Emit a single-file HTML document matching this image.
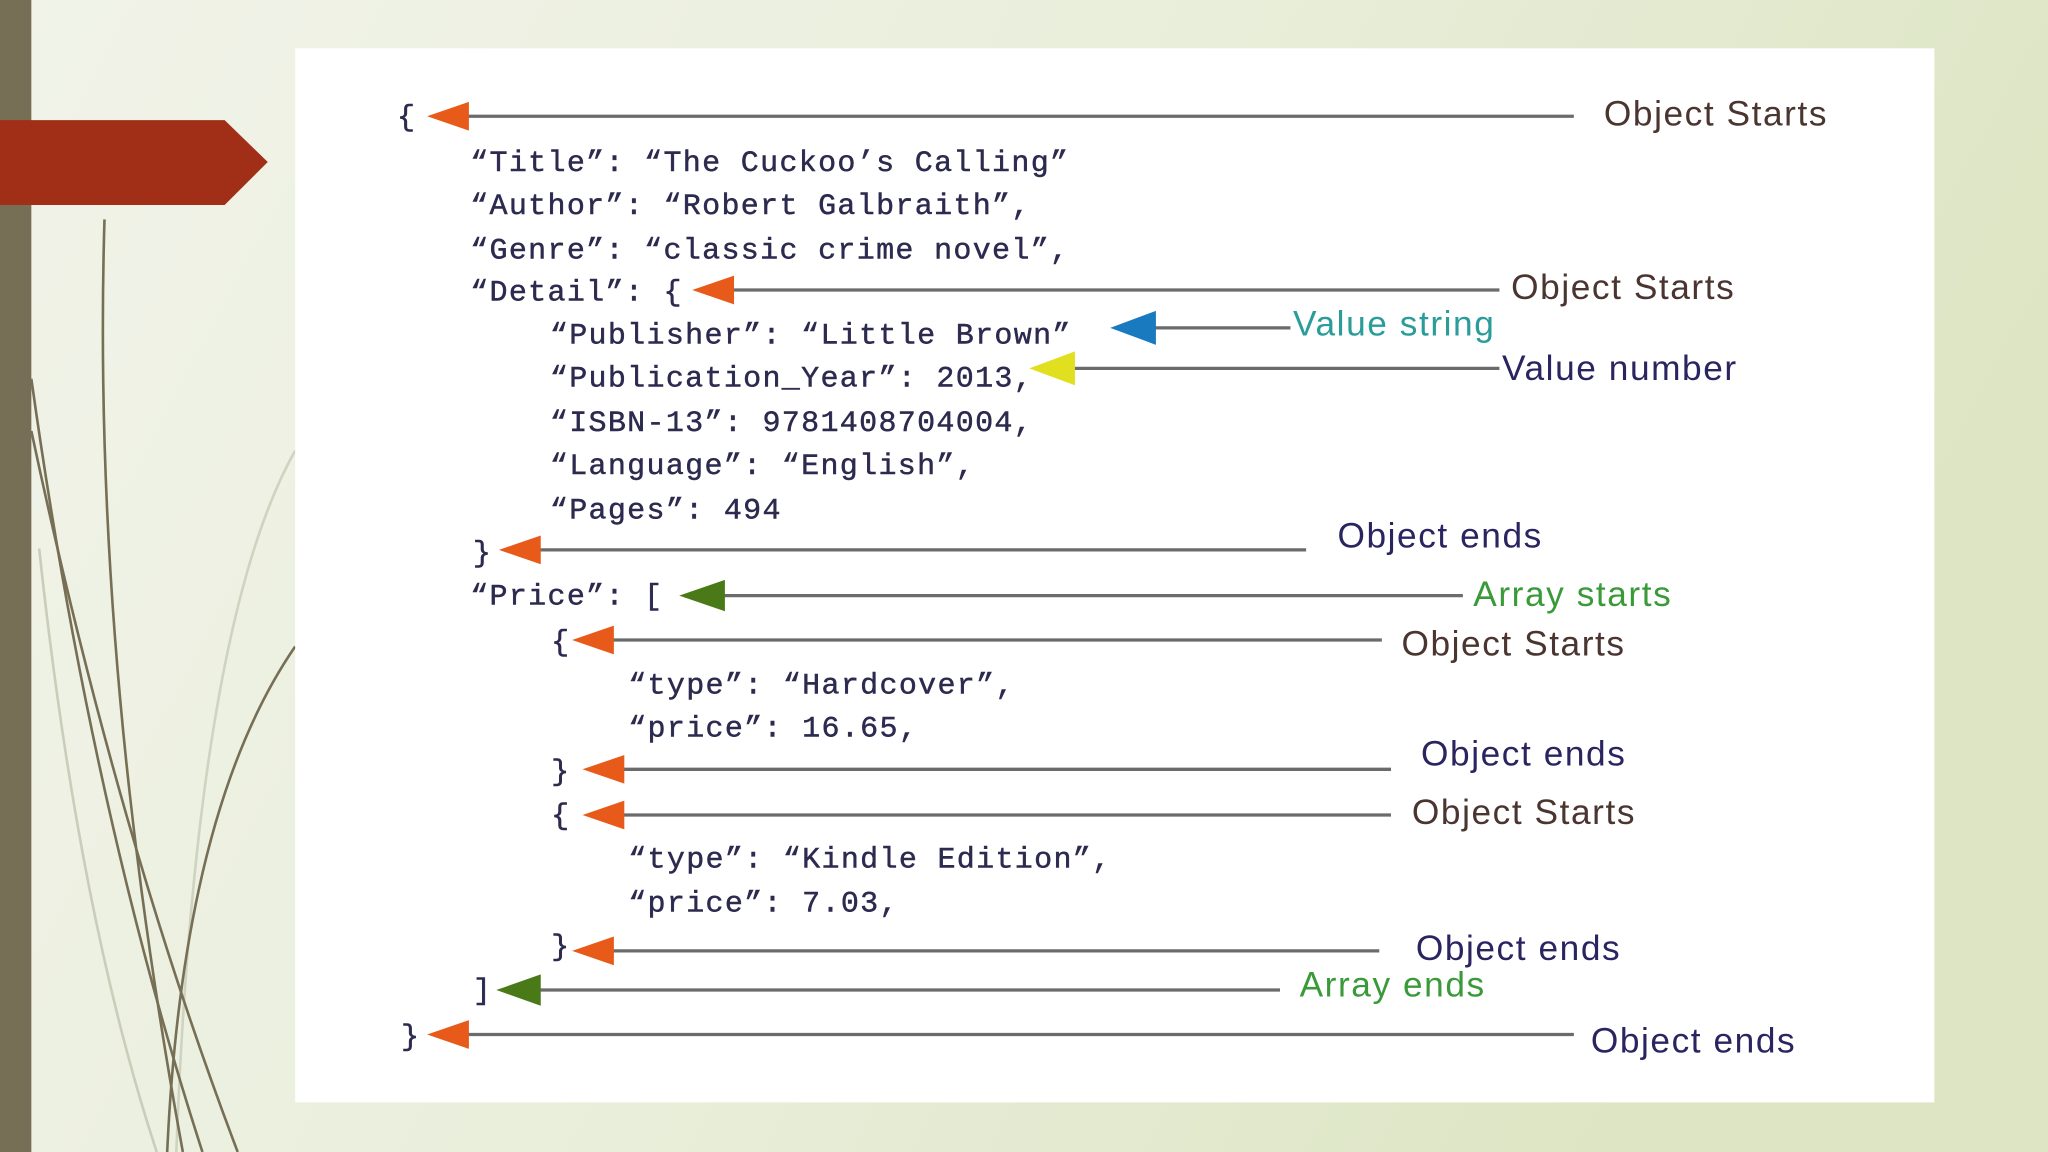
<!DOCTYPE html>
<html><head><meta charset="utf-8"><style>
html,body{margin:0;padding:0;width:2048px;height:1152px;overflow:hidden}
svg{display:block}
.c{font-family:"Liberation Mono",monospace;font-size:23px;letter-spacing:1px;fill:#2c2a4e;stroke:#2c2a4e;stroke-width:0.35px}
.l{font-family:"Liberation Sans",sans-serif;font-size:27px;letter-spacing:1.2px}
</style></head><body>
<svg width="2048" height="1152" viewBox="0 0 1568 882" xmlns="http://www.w3.org/2000/svg">
<defs>
<linearGradient id="bg" x1="0" y1="0" x2="1" y2="0.3">
<stop offset="0" stop-color="#f1f3e9"/><stop offset="0.5" stop-color="#eaefdc"/><stop offset="1" stop-color="#dde5c4"/>
</linearGradient>
</defs>
<rect width="1568" height="882" fill="url(#bg)"/>
<rect x="0" y="0" width="24" height="882" fill="#776e56"/>
<g fill="none" stroke-width="2">
<path d="M30,420 Q60,700 120,882" stroke="#c9cdb9"/>
<path d="M226,345 Q150,480 135,882" stroke="#cfd3c0"/>
<path d="M80,168 Q70,500 140,882" stroke="#776e56"/>
<path d="M24,290 Q70,620 155,882" stroke="#776e56"/>
<path d="M24,330 Q90,640 182,882" stroke="#776e56"/>
<path d="M226,495 Q140,620 128,882" stroke="#776e56"/>
</g>
<polygon points="0,92 172,92 205,124 172,157 0,157" fill="#a12f17"/>
<rect x="226" y="37" width="1255" height="807" fill="#ffffff"/>
<g class="c">
<text x="304" y="96">{</text>
<text x="360" y="131">“Title”: “The Cuckoo’s Calling”</text>
<text x="360" y="164">“Author”: “Robert Galbraith”,</text>
<text x="360" y="198">“Genre”: “classic crime novel”,</text>
<text x="360" y="230">“Detail”: {</text>
<text x="421" y="263">“Publisher”: “Little Brown”</text>
<text x="421" y="296">“Publication_Year”: 2013,</text>
<text x="421" y="330">“ISBN-13”: 9781408704004,</text>
<text x="421" y="363">“Language”: “English”,</text>
<text x="421" y="397">“Pages”: 494</text>
<text x="362" y="430">}</text>
<text x="360" y="463">“Price”: [</text>
<text x="422" y="498">{</text>
<text x="481" y="531">“type”: “Hardcover”,</text>
<text x="481" y="564">“price”: 16.65,</text>
<text x="422" y="597">}</text>
<text x="422" y="631">{</text>
<text x="481" y="664">“type”: “Kindle Edition”,</text>
<text x="481" y="698">“price”: 7.03,</text>
<text x="422" y="731">}</text>
<text x="362" y="765">]</text>
<text x="307" y="800">}</text>
</g>
<g stroke="#6b6b6b" stroke-width="2.5">
<line x1="340" y1="89" x2="1205" y2="89"/>
<line x1="545" y1="222" x2="1148" y2="222"/>
<line x1="870" y1="251" x2="988" y2="251"/>
<line x1="805" y1="282" x2="1148" y2="282"/>
<line x1="395" y1="421" x2="1000" y2="421"/>
<line x1="535" y1="456" x2="1120" y2="456"/>
<line x1="452" y1="490" x2="1058" y2="490"/>
<line x1="460" y1="589" x2="1065" y2="589"/>
<line x1="460" y1="624" x2="1065" y2="624"/>
<line x1="452" y1="728" x2="1056" y2="728"/>
<line x1="395" y1="758" x2="980" y2="758"/>
<line x1="340" y1="792" x2="1205" y2="792"/>
</g>
<g>
<polygon points="327,89 359,78 359,100" fill="#e85a1a"/>
<polygon points="530,222 562,211 562,233" fill="#e85a1a"/>
<polygon points="850,251 885,238 885,264" fill="#1a7ac0"/>
<polygon points="788,282 823,269 823,295" fill="#e0e020"/>
<polygon points="382,421 414,410 414,432" fill="#e85a1a"/>
<polygon points="520,456 555,444 555,468" fill="#4a7a18"/>
<polygon points="438,490 470,479 470,501" fill="#e85a1a"/>
<polygon points="446,589 478,578 478,600" fill="#e85a1a"/>
<polygon points="446,624 478,613 478,635" fill="#e85a1a"/>
<polygon points="438,728 470,717 470,739" fill="#e85a1a"/>
<polygon points="380,758 414,746 414,770" fill="#4a7a18"/>
<polygon points="327,792 359,781 359,803" fill="#e85a1a"/>
</g>
<g class="l">
<text x="1228" y="96" fill="#4a3530">Object Starts</text>
<text x="1157" y="229" fill="#4a3530">Object Starts</text>
<text x="990" y="257" fill="#2a9d9a">Value string</text>
<text x="1150" y="291" fill="#2a2560">Value number</text>
<text x="1024" y="419" fill="#2a2560">Object ends</text>
<text x="1128" y="464" fill="#3a9a3a">Array starts</text>
<text x="1073" y="502" fill="#4a3530">Object Starts</text>
<text x="1088" y="586" fill="#2a2560">Object ends</text>
<text x="1081" y="631" fill="#4a3530">Object Starts</text>
<text x="1084" y="735" fill="#2a2560">Object ends</text>
<text x="995" y="763" fill="#3a9a3a">Array ends</text>
<text x="1218" y="806" fill="#2a2560">Object ends</text>
</g>
</svg>
</body></html>
